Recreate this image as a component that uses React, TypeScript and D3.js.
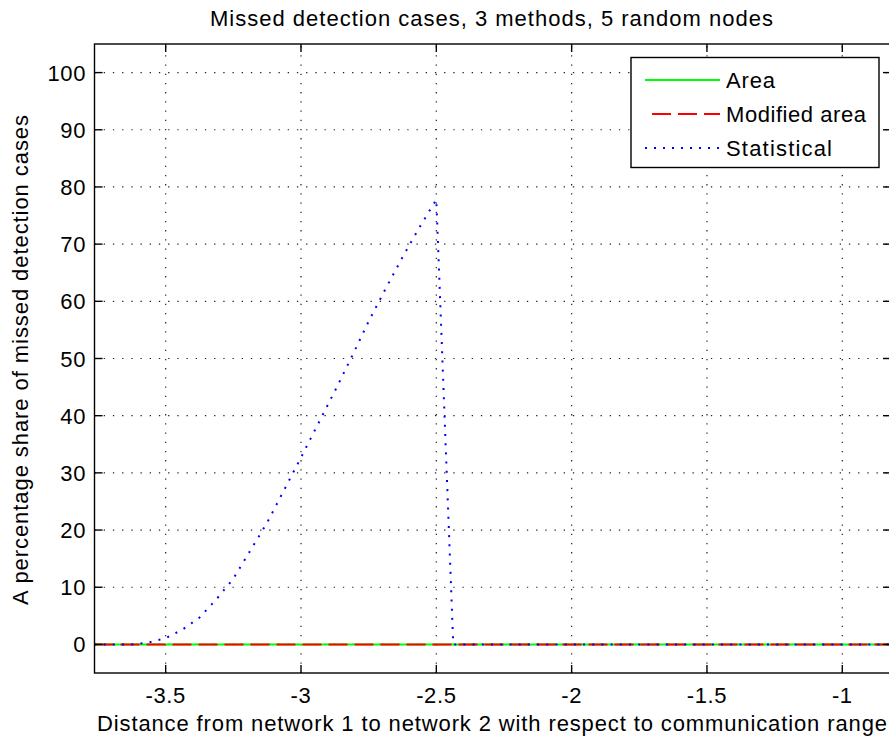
import React from "react";
import * as d3 from "d3";

const title = "Missed detection cases, 3 methods, 5 random nodes";
const xLabel = "Distance from network 1 to network 2 with respect to communication range";
const yLabel = "A percentage share of missed detection cases";

const distances = [-3.763, -3.625, -3.5625, -3.5, -3.4375, -3.375, -3.3125, -3.25, -3.1875, -3.125, -3.0625, -3.0, -2.9375, -2.875, -2.8125, -2.75, -2.6875, -2.625, -2.5625, -2.5, -2.4375, -0.82];
const areaValues = [0, 0, 0, 0, 0, 0, 0, 0, 0, 0, 0, 0, 0, 0, 0, 0, 0, 0, 0, 0, 0, 0];
const modifiedAreaValues = [0, 0, 0, 0, 0, 0, 0, 0, 0, 0, 0, 0, 0, 0, 0, 0, 0, 0, 0, 0, 0, 0];
const statisticalValues = [0, 0, 0.35, 1.1, 2.6, 4.7, 7.9, 11.5, 16.4, 21.3, 27.0, 32.7, 38.5, 44.3, 50.3, 56.5, 62.2, 67.7, 72.9, 77.8, 0, 0];

const xTicks = [-3.5, -3, -2.5, -2, -1.5, -1];
const xTickLabels = ["-3.5", "-3", "-2.5", "-2", "-1.5", "-1"];
const yTicks = [0, 10, 20, 30, 40, 50, 60, 70, 80, 90, 100];
const yTickLabels = ["0", "10", "20", "30", "40", "50", "60", "70", "80", "90", "100"];

const seriesNames = ["Area", "Modified area", "Statistical"];

const W = 889, H = 741;
const L = 94.5, R = 891, T = 44, B = 673;
const FONT = "'Liberation Sans', Arial, Helvetica, sans-serif";

export default function App() {
  const x = d3.scaleLinear().domain([-3.763, -0.82]).range([L, R]);
  const y = d3.scaleLinear().domain([-5, 105]).range([B, T]);
  const line = (vals: number[]) =>
    d3.line<number>().x((_, i) => x(distances[i])).y((v) => y(v))(vals) || "";

  const styles = [
    { stroke: "#00ff00", dash: undefined as string | undefined, width: 2 },
    { stroke: "#ff0000", dash: "19 7", width: 2 },
    { stroke: "#0000ff", dash: "2 7.2", width: 2 },
  ];
  const seriesVals = [areaValues, modifiedAreaValues, statisticalValues];
  const legendW = [49, 140, 106];
  const tick = 8;

  return (
    <svg width={W} height={H} style={{ position: "absolute", left: 0, top: 0, background: "#fff" }} fontFamily={FONT}>
      <rect x={0} y={0} width={W} height={H} fill="#fff" />
      <defs>
        <clipPath id="plotclip">
          <rect x={L} y={T} width={R - L} height={B - T} />
        </clipPath>
      </defs>
      {/* grid */}
      <g stroke="#222" strokeWidth={1.2} strokeDasharray="1.3 7.9">
        {xTicks.map((t) => (
          <line key={"gx" + t} x1={x(t)} x2={x(t)} y1={B} y2={T} />
        ))}
        {yTicks.map((t) => (
          <line key={"gy" + t} x1={L} x2={R} y1={y(t)} y2={y(t)} />
        ))}
      </g>
      {/* series */}
      <g clipPath="url(#plotclip)" fill="none">
        {seriesVals.map((vals, i) => (
          <path key={i} d={line(vals)} stroke={styles[i].stroke} strokeWidth={styles[i].width}
            strokeDasharray={styles[i].dash} strokeLinecap={i === 2 ? "butt" : "butt"} />
        ))}
      </g>
      {/* axes box */}
      <rect x={L} y={T} width={R - L} height={B - T} fill="none" stroke="#000" strokeWidth={1.4} />
      <g stroke="#000" strokeWidth={1.4}>
        {xTicks.map((t) => (
          <g key={"tx" + t}>
            <line x1={x(t)} x2={x(t)} y1={B} y2={B - tick} />
            <line x1={x(t)} x2={x(t)} y1={T} y2={T + tick} />
          </g>
        ))}
        {yTicks.map((t) => (
          <g key={"ty" + t}>
            <line x1={L} x2={L + tick} y1={y(t)} y2={y(t)} />
            <line x1={R} x2={R - tick} y1={y(t)} y2={y(t)} />
          </g>
        ))}
      </g>
      {/* tick labels */}
      <g fontSize={22} fill="#000" letterSpacing={0.6}>
        {xTicks.map((t, i) => (
          <text key={"lx" + t} x={x(t)} y={702.5} textAnchor="middle">{xTickLabels[i]}</text>
        ))}
        {yTicks.map((t, i) => (
          <text key={"ly" + t} x={86} y={y(t) + 8} textAnchor="end">{yTickLabels[i]}</text>
        ))}
      </g>
      {/* title and labels */}
      <text x={210} y={26} fontSize={22} textLength={563} lengthAdjust="spacing">{title}</text>
      <text x={97} y={731} fontSize={22} textLength={790} lengthAdjust="spacing">{xLabel}</text>
      <text transform={`translate(28,605) rotate(-90)`} fontSize={22} textLength={490} lengthAdjust="spacing">{yLabel}</text>
      {/* legend */}
      <rect x={631} y={57.5} width={248} height={110} fill="#fff" stroke="#000" strokeWidth={1.4} />
      {seriesNames.map((name, i) => {
        const cy = 80 + i * 34;
        return (
          <g key={name}>
            <line x1={i === 1 ? 652 : 645} x2={720} y1={cy} y2={cy} stroke={styles[i].stroke}
              strokeWidth={i === 2 ? 2 : 2} strokeDasharray={i === 1 ? "19 7" : i === 2 ? "2 7" : undefined} />
            <text x={726} y={cy + 8} fontSize={22} textLength={legendW[i]} lengthAdjust="spacing">{name}</text>
          </g>
        );
      })}
    </svg>
  );
}
